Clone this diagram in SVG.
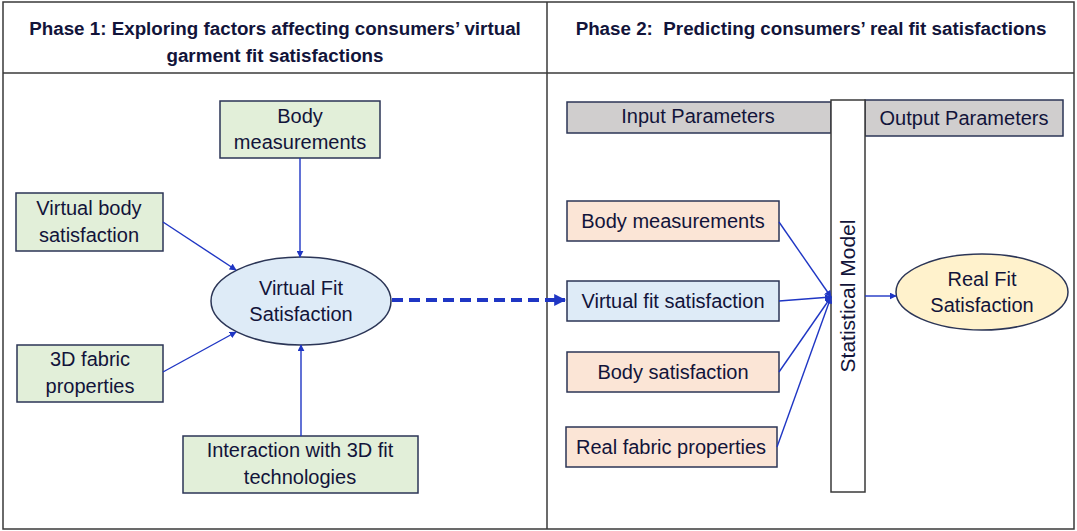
<svg xmlns="http://www.w3.org/2000/svg" width="1077" height="531" viewBox="0 0 1077 531">
  <style>
    .frame { fill: none; stroke: #3a3a3a; stroke-width: 1.5; }
    .box { stroke: #2b3556; stroke-width: 1.5; }
    .green { fill: #e2efd9; }
    .blue { fill: #deebf7; }
    .peach { fill: #fbe5d6; }
    .grey { fill: #d0cece; }
    .yellow { fill: #fff2cc; }
    text { font-family: "Liberation Sans", Arial, sans-serif; fill: #12143a; }
    .lbl { font-size: 20px; text-anchor: middle; }
    .hdr { font-size: 18.8px; font-weight: bold; text-anchor: middle; }
    .link { stroke: #1f36c4; stroke-width: 1.4; fill: none; }
    .dash { stroke: #1f36c4; stroke-width: 4; stroke-dasharray: 11 6; fill: none; }
  </style>
  <defs>
    <marker id="arr" viewBox="0 0 10 10" refX="9" refY="5" markerWidth="7" markerHeight="7" markerUnits="userSpaceOnUse" orient="auto">
      <path d="M0,0 L10,5 L0,10 z" fill="#1f36c4"/>
    </marker>
    <marker id="arrBig" viewBox="0 0 10 10" refX="9" refY="5" markerWidth="3" markerHeight="3" orient="auto">
      <path d="M0,0 L10,5 L0,10 z" fill="#1f36c4"/>
    </marker>
  </defs>

  <!-- outer table -->
  <g id="table">
    <rect class="frame" x="3" y="2" width="1071" height="527" fill="#ffffff"/>
    <line class="frame" x1="3" y1="73" x2="1074" y2="73"/>
    <line class="frame" x1="547" y1="2" x2="547" y2="529"/>
    <text class="hdr" x="275" y="35">Phase 1: Exploring factors affecting consumers’ virtual</text>
    <text class="hdr" x="275" y="62">garment fit satisfactions</text>
    <text class="hdr" x="811" y="35" xml:space="preserve">Phase 2:  Predicting consumers’ real fit satisfactions</text>
  </g>

  <!-- phase 1 nodes -->
  <g id="p1-body-measurements">
    <rect class="box green" x="220" y="101" width="160" height="57"/>
    <text class="lbl" x="300" y="123">Body</text>
    <text class="lbl" x="300" y="149">measurements</text>
  </g>
  <g id="p1-virtual-body-satisfaction">
    <rect class="box green" x="16" y="193" width="147" height="58"/>
    <text class="lbl" x="89" y="215">Virtual body</text>
    <text class="lbl" x="89" y="242">satisfaction</text>
  </g>
  <g id="p1-virtual-fit-satisfaction">
    <ellipse class="box blue" cx="301" cy="301" rx="90" ry="44"/>
    <text class="lbl" x="301" y="295">Virtual Fit</text>
    <text class="lbl" x="301" y="321">Satisfaction</text>
  </g>
  <g id="p1-3d-fabric-properties">
    <rect class="box green" x="17" y="345" width="146" height="57"/>
    <text class="lbl" x="90" y="366">3D fabric</text>
    <text class="lbl" x="90" y="393">properties</text>
  </g>
  <g id="p1-interaction">
    <rect class="box green" x="183" y="436" width="235" height="57"/>
    <text class="lbl" x="300" y="457">Interaction with 3D fit</text>
    <text class="lbl" x="300" y="484">technologies</text>
  </g>

  <!-- phase 2 nodes -->
  <g id="p2-input-parameters">
    <rect class="box grey" x="567" y="102" width="264" height="31"/>
    <text class="lbl" x="698" y="123">Input Parameters</text>
  </g>
  <g id="p2-output-parameters">
    <rect class="box grey" x="865" y="100" width="198" height="36"/>
    <text class="lbl" x="964" y="125">Output Parameters</text>
  </g>
  <g id="p2-statistical-model">
    <rect x="831" y="100" width="34" height="392" fill="#ffffff" stroke="#3a3a3a" stroke-width="1.5"/>
    <text class="lbl" style="font-size:21px" transform="translate(855,296) rotate(-90)">Statistical Model</text>
  </g>
  <g id="p2-body-measurements">
    <rect class="box peach" x="567" y="201" width="212" height="40"/>
    <text class="lbl" x="673" y="228">Body measurements</text>
  </g>
  <g id="p2-virtual-fit-satisfaction">
    <rect class="box blue" x="567" y="281" width="212" height="40"/>
    <text class="lbl" x="673" y="308">Virtual fit satisfaction</text>
  </g>
  <g id="p2-body-satisfaction">
    <rect class="box peach" x="567" y="352" width="212" height="40"/>
    <text class="lbl" x="673" y="379">Body satisfaction</text>
  </g>
  <g id="p2-real-fabric-properties">
    <rect class="box peach" x="566" y="427" width="211" height="40"/>
    <text class="lbl" x="671" y="454">Real fabric properties</text>
  </g>
  <g id="p2-real-fit-satisfaction">
    <ellipse class="box yellow" cx="982" cy="292" rx="86" ry="38"/>
    <text class="lbl" x="982" y="286">Real Fit</text>
    <text class="lbl" x="982" y="312">Satisfaction</text>
  </g>

  <!-- connectors -->
  <g id="connectors">
    <line class="link" x1="300" y1="158" x2="300" y2="257" marker-end="url(#arr)"/>
    <line class="link" x1="163" y1="222" x2="236" y2="270" marker-end="url(#arr)"/>
    <line class="link" x1="163" y1="372" x2="236" y2="332" marker-end="url(#arr)"/>
    <line class="link" x1="301" y1="436" x2="301" y2="345" marker-end="url(#arr)"/>
    <line class="dash" x1="392" y1="300" x2="565" y2="300" marker-end="url(#arrBig)"/>
    <line class="link" x1="779" y1="222" x2="831" y2="297" marker-end="url(#arr)"/>
    <line class="link" x1="779" y1="301" x2="831" y2="297" marker-end="url(#arr)"/>
    <line class="link" x1="779" y1="372" x2="831" y2="297" marker-end="url(#arr)"/>
    <line class="link" x1="777" y1="447" x2="831" y2="297" marker-end="url(#arr)"/>
    <line class="link" x1="865" y1="296" x2="896" y2="296" marker-end="url(#arr)"/>
  </g>
</svg>
